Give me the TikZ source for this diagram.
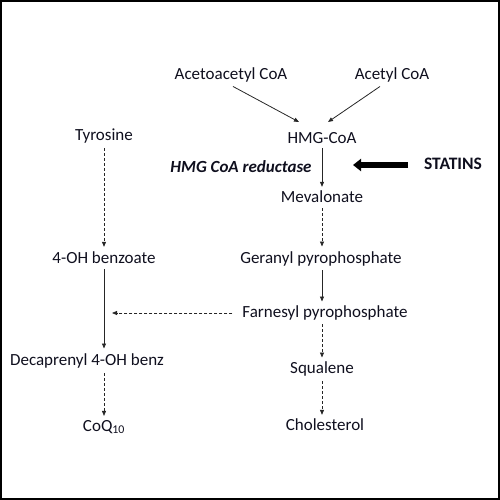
\documentclass[tikz,border=0pt]{standalone}
\usepackage{fontspec}
\setmainfont{Carlito}
\usetikzlibrary{arrows.meta}
\definecolor{txt}{RGB}{15,15,30}
\begin{document}
\begin{tikzpicture}[x=1pt,y=-1pt,
  lbl/.style={inner sep=0pt,text=txt,font=\fontsize{17}{20}\selectfont},
  arr/.style={-{Triangle[length=5pt,width=4pt]},line width=0.8pt,draw=black!85},
  dsh/.style={arr,dash pattern=on 3pt off 2pt}]
\useasboundingbox (0,0) rectangle (500,500);
\draw[line width=2pt] (1,1) rectangle (499,499);
% nodes
\node[lbl] (acac) at (231,75) {Acetoacetyl CoA};
\node[lbl] (acet) at (392,75) {Acetyl CoA};
\node[lbl] (hmg) at (322,138) {HMG-CoA};
\node[lbl,font=\fontsize{17}{20}\selectfont\bfseries\itshape] (red) at (241,167) {HMG CoA reductase};
\node[lbl,font=\fontsize{17.5}{20}\selectfont\bfseries] (stat) at (453,164) {STATINS};
\node[lbl] (mev) at (322,197) {Mevalonate};
\node[lbl] (ger) at (321,259) {Geranyl pyrophosphate};
\node[lbl] (far) at (325,313) {Farnesyl pyrophosphate};
\node[lbl] (squ) at (322,369) {Squalene};
\node[lbl] (cho) at (325,425) {Cholesterol};
\node[lbl] (tyr) at (104,136) {Tyrosine};
\node[lbl] (ohb) at (104,258) {4-OH benzoate};
\node[lbl] (dec) at (87,361) {Decaprenyl 4-OH benz};
\node[lbl] (coq) at (104,427) {CoQ\textsubscript{10}};
\coordinate (jn) at (112,313);
\coordinate (hmgL) at (299,122);
\coordinate (hmgR) at (328,122);
\coordinate (statEnd) at (408,165);
\coordinate (statTip) at (353,165);
% connectors
\draw[arr] ([xshift=2pt,yshift=-4pt]acac.south) -- (hmgL);
\draw[arr] ([xshift=-12pt,yshift=-4pt]acet.south) -- (hmgR);
\draw[arr] ([yshift=-4pt]hmg.south) -- ([yshift=4pt]hmg.south |- mev.north);
\draw[dsh] ([yshift=-5pt]mev.south) -- ([yshift=5pt]mev.south |- ger.north);
\draw[arr] ([xshift=1pt,yshift=-4pt]ger.south) -- ([xshift=1pt,yshift=4pt]ger.south |- far.north);
\draw[dsh] ([xshift=-3pt,yshift=-4pt]far.south) -- ([xshift=-3pt,yshift=4pt]far.south |- squ.north);
\draw[dsh] ([yshift=-5pt]squ.south) -- ([yshift=4pt]squ.south |- cho.north);
\draw[dsh] ([yshift=-5pt]tyr.south) -- ([yshift=5pt]tyr.south |- ohb.north);
\draw[arr] ([yshift=-5pt]ohb.south) -- ([yshift=5pt]ohb.south |- dec.north);
\draw[dsh] ([yshift=-5pt]dec.south -| coq.north) -- ([yshift=4pt]coq.north);
\draw[dsh] ([xshift=-10pt]far.west) -- (jn);
\draw[line width=6pt,-{Triangle[length=8pt,width=12pt]}] (statEnd) -- (statTip);
\end{tikzpicture}
\end{document}
